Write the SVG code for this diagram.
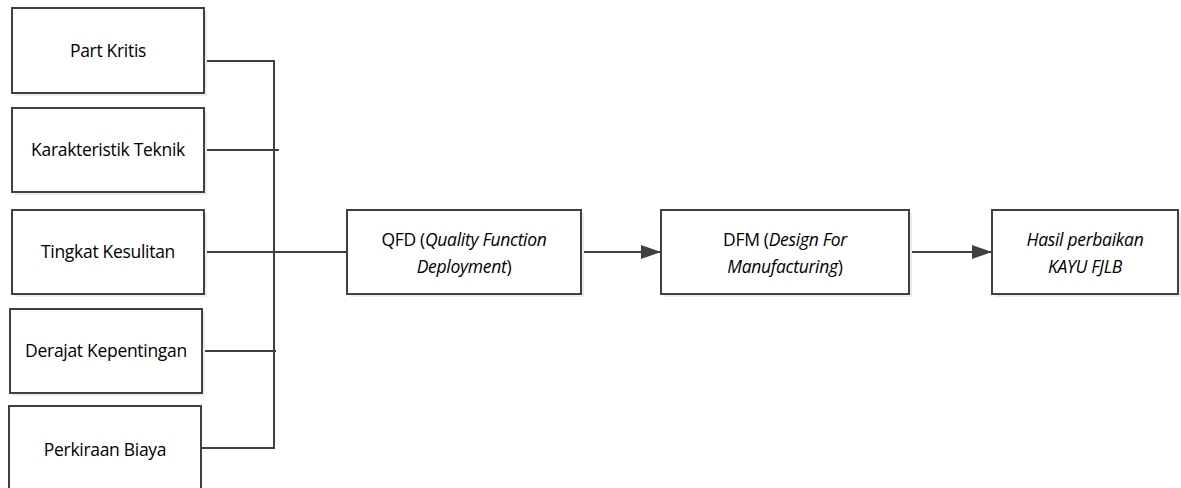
<svg xmlns="http://www.w3.org/2000/svg" width="1181" height="488" viewBox="0 0 1181 488">
<style>
.box{fill:#fff;stroke:#404040;stroke-width:2}
.sh{fill:#ececec}
.t{font-family:"Open Sans","Liberation Sans",sans-serif;font-size:17.5px;fill:#000;text-anchor:middle;letter-spacing:-0.3px}
.i{font-style:italic}
.c{fill:none;stroke:#404040;stroke-width:2}
</style>
<defs>
<marker id="arr" markerWidth="20" markerHeight="14" refX="20" refY="7" orient="auto" markerUnits="userSpaceOnUse">
<path d="M0,0 L20,7 L0,14 Z" fill="#404040"/>
</marker>
</defs>
<rect width="1181" height="488" fill="#fff"/>
<g id="connectors">
<polyline class="c" points="204,61 274,61 274,448 201,448"/>
<line class="c" x1="204" y1="150" x2="279" y2="150"/>
<line class="c" x1="204" y1="252" x2="347" y2="252"/>
<line class="c" x1="202" y1="351" x2="276" y2="351"/>
<line class="c" x1="581" y1="252" x2="661" y2="252" marker-end="url(#arr)"/>
<line class="c" x1="909" y1="252" x2="992" y2="252" marker-end="url(#arr)"/>
</g>
<g id="n1"><rect class="sh" x="15" y="11" width="192" height="85"/><rect class="box" x="12" y="8" width="192" height="85"/><text class="t" x="108" y="57">Part Kritis</text></g>
<g id="n2"><rect class="sh" x="15" y="111" width="192" height="84"/><rect class="box" x="12" y="108" width="192" height="84"/><text class="t" x="108" y="156">Karakteristik Teknik</text></g>
<g id="n3"><rect class="sh" x="15" y="213" width="192" height="84"/><rect class="box" x="12" y="210" width="192" height="84"/><text class="t" x="108" y="258">Tingkat Kesulitan</text></g>
<g id="n4"><rect class="sh" x="13" y="312" width="192" height="84"/><rect class="box" x="10" y="309" width="192" height="84"/><text class="t" x="106" y="357">Derajat Kepentingan</text></g>
<g id="n5"><rect class="box" x="9" y="406" width="192" height="86"/><text class="t" x="105" y="456">Perkiraan Biaya</text></g>
<g id="qfd"><rect class="sh" x="350" y="213" width="234" height="84"/><rect class="box" x="347" y="210" width="234" height="84"/><text class="t" x="464" y="246">QFD (<tspan class="i">Quality Function</tspan></text><text class="t" x="464" y="273"><tspan class="i">Deployment</tspan>)</text></g>
<g id="dfm"><rect class="sh" x="664" y="213" width="248" height="84"/><rect class="box" x="661" y="210" width="248" height="84"/><text class="t" x="785" y="246">DFM (<tspan class="i">Design For</tspan></text><text class="t" x="785" y="273"><tspan class="i">Manufacturing</tspan>)</text></g>
<g id="hasil"><rect class="sh" x="995" y="213" width="186" height="84"/><rect class="box" x="992" y="210" width="186" height="84"/><text class="t i" x="1085" y="246">Hasil perbaikan</text><text class="t i" x="1085" y="273">KAYU FJLB</text></g>
</svg>
